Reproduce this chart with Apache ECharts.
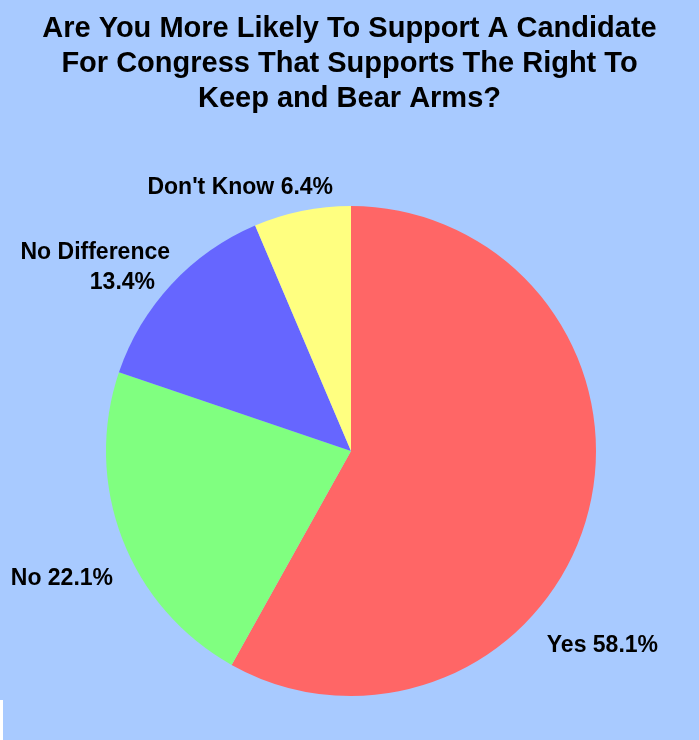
<!DOCTYPE html>
<html><head><meta charset="utf-8">
<script src="https://cdn.jsdelivr.net/npm/echarts@6/dist/echarts.min.js"></script>
<style>html,body{margin:0;padding:0;background:#A8CAFF;}#c{width:699px;height:740px;}
#strip{position:absolute;left:0;top:700px;width:3px;height:40px;background:#fff;}</style>
</head><body><div id="c"></div><div id="strip"></div>
<script>
const titleLines = ["Are You More Likely To Support A Candidate", "For Congress That Supports The Right To", "Keep and Bear Arms?"];
const categories = ["Yes", "No", "No Difference", "Don't Know"];
const values = [58.1, 22.1, 13.4, 6.4];
const colors = ["#FF6666", "#80FF80", "#6666FF", "#FFFF80"];
const labelShift = [[-56, 130], [5, 36], [11, -10], [38, -13]];

const chart = echarts.init(document.getElementById('c'), null, {renderer: 'canvas'});
chart.setOption({
  backgroundColor: '#A8CAFF',
  animation: false,
  title: {
    text: titleLines.join('\n'),
    left: 'center', top: 6,
    textStyle: {fontFamily: 'Liberation Sans, Arial', fontWeight: 'bold', fontSize: 29, lineHeight: 35, color: '#000'}
  },
  series: [{
    type: 'pie',
    center: [351, 451],
    radius: 245,
    startAngle: 90,
    clockwise: true,
    data: categories.map((c, i) => ({name: c, value: values[i], itemStyle: {color: colors[i]}})),
    label: {
      show: true,
      position: 'outside',
      overflow: 'none',
      formatter: p => p.name === 'No Difference' ? '{a|' + p.name + '}\n{b|' + p.value.toFixed(1) + '%}' : p.name + ' ' + p.value.toFixed(1) + '%',
      fontFamily: 'Liberation Sans, Arial', fontWeight: 'bold', fontSize: 23, color: '#000', lineHeight: 30,
      rich: {
        a: {fontFamily: 'Liberation Sans, Arial', fontWeight: 'bold', fontSize: 23, color: '#000', lineHeight: 30},
        b: {fontFamily: 'Liberation Sans, Arial', fontWeight: 'bold', fontSize: 23, color: '#000', lineHeight: 30, padding: [0, 15, 0, 0]}
      }
    },
    labelLine: {show: false, length: 10, length2: 0},
    labelLayout: p => ({dx: labelShift[p.dataIndex][0], dy: labelShift[p.dataIndex][1]})
  }]
});
</script></body></html>
